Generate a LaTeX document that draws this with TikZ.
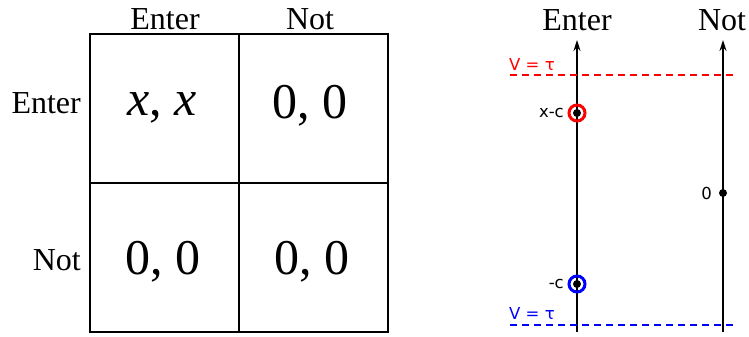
\documentclass[tikz,border=0pt]{standalone}
\usepackage{fontspec}
\setmainfont{Liberation Serif}
\newfontfamily\lblfont{DejaVu Sans}
\usetikzlibrary{arrows.meta}
\definecolor{myred}{RGB}{255,0,0}
\definecolor{myblue}{RGB}{0,0,255}
\begin{document}
\begin{tikzpicture}[x=1pt,y=-1pt,
  gridline/.style={line width=1.3pt},
  head/.style={font=\fontsize{32}{32}\selectfont, inner sep=0pt},
  payoff/.style={font=\fontsize{50}{50}\selectfont, inner sep=0pt},
  axisline/.style={line width=1.3pt, -{Stealth[length=11pt,width=7pt]}},
  vline/.style={line width=1.1pt, dash pattern=on 7pt off 5pt},
  small/.style={font=\lblfont\fontsize{16.5}{16.5}\selectfont, inner sep=0pt},
  dot/.style={circle, fill=black, minimum size=8pt, inner sep=0pt},
  ring/.style={circle, draw, line width=3pt, minimum size=16pt, inner sep=0pt}]
\useasboundingbox (0,0) rectangle (749,337);
% matrix
\coordinate (g00) at (90,34);
\coordinate (g11) at (388,332);
\draw[gridline] (g00) rectangle (g11);
\coordinate (vt) at (239,34); \coordinate (vb) at (239,332);
\coordinate (hl) at (90,183); \coordinate (hr) at (388,183);
\draw[gridline] (vt) -- (vb);
\draw[gridline] (hl) -- (hr);
\node[head] (ce) at (165,19) {Enter};
\node[head] (cn) at (310,19) {Not};
\node[head, anchor=east] (re) at (81,103) {Enter};
\node[head, anchor=east] (rn) at (81,260) {Not};
\node[payoff] (p11) at (162,108) {\itshape x\upshape , \itshape x};
\node[payoff] (p12) at (310,106) {0, 0};
\node[payoff] (p21) at (163,262) {0, 0};
\node[payoff] (p22) at (312,262) {0, 0};
% right diagram
\node[head] (te) at (577,20) {Enter};
\node[head] (tn) at (722,20) {Not};
\coordinate (eb) at (577,332); \coordinate (et) at (577,40);
\coordinate (nb) at (723,332); \coordinate (nt) at (723,40);
\draw[axisline] (eb) -- (et);
\draw[axisline] (nb) -- (nt);
\coordinate (rl) at (510,75); \coordinate (rr) at (737,75);
\coordinate (bl) at (510,325); \coordinate (br) at (737,325);
\draw[vline, myred] (rl) -- (rr);
\draw[vline, myblue] (bl) -- (br);
\node[small, myred, anchor=west] (vr) at (509,64) {V = τ};
\node[small, myblue, anchor=west] (vb2) at (509,313) {V = τ};
\node[ring, myred] (xcr) at (577,113) {};
\node[dot] (xc) at (577,113) {};
\node[small, anchor=east] (xcl) at (564,113) {x-c};
\node[ring, myblue] (mcr) at (577,284) {};
\node[dot] (mc) at (577,284) {};
\node[small, anchor=east] (mcl) at (564,284) {-c};
\node[dot] (z) at (723,193) {};
\node[small, anchor=east] (zl) at (712,193) {0};
\end{tikzpicture}
\end{document}
